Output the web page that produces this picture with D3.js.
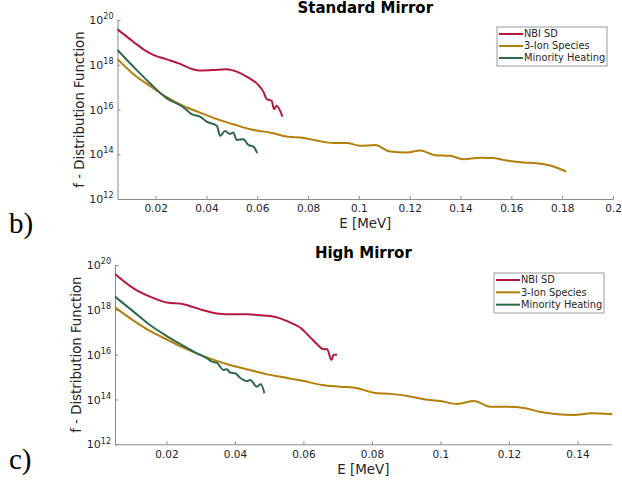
<!DOCTYPE html>
<html>
<head>
<meta charset="utf-8">
<script src="https://cdn.jsdelivr.net/npm/d3@7"></script>
<style>
  html, body { margin: 0; padding: 0; background: #fff; }
  svg { display: block; font-family: "DejaVu Sans", sans-serif; }
</style>
</head>
<body>
<svg id="chart" width="622" height="488"></svg>
<script>
// ---------- DATA (log10 of f vs E [MeV]) ----------
const seriesNames = ["NBI SD", "3-Ion Species", "Minority Heating"];
const seriesColors = ["#b5183c", "#b47e0b", "#2d6a4a"];

// Panel b) Standard Mirror
const stdNbiE = [0.005, 0.0112, 0.0152, 0.0191, 0.0244, 0.0296, 0.0336, 0.0375, 0.0426, 0.048, 0.0519, 0.0558, 0.0604, 0.0624, 0.0637, 0.0657, 0.0666, 0.0676, 0.0699];
const stdNbiLogF = [19.58, 19.03, 18.69, 18.44, 18.24, 18.04, 17.84, 17.74, 17.77, 17.80, 17.69, 17.47, 17.10, 16.80, 16.47, 16.38, 16.01, 16.17, 15.68];

const stdIonE = [0.005, 0.0112, 0.0178, 0.0244, 0.0309, 0.0375, 0.0441, 0.0506, 0.0572, 0.0663, 0.0716, 0.0782, 0.0834, 0.0900, 0.0952, 0.1005, 0.1064, 0.1123, 0.1189, 0.1241, 0.1300, 0.1359, 0.1411, 0.1477, 0.1530, 0.1582, 0.1648, 0.1700, 0.1753, 0.1816];
const stdIonLogF = [18.25, 17.59, 17.05, 16.55, 16.16, 15.86, 15.57, 15.34, 15.12, 14.94, 14.79, 14.73, 14.61, 14.50, 14.50, 14.38, 14.41, 14.12, 14.08, 14.17, 13.96, 13.93, 13.78, 13.84, 13.83, 13.72, 13.63, 13.60, 13.50, 13.23];

const stdMinE = [0.005, 0.0112, 0.0178, 0.0244, 0.0309, 0.0342, 0.0375, 0.0401, 0.0441, 0.0454, 0.0473, 0.0493, 0.0506, 0.0519, 0.0545, 0.0565, 0.0585, 0.0600];
const stdMinLogF = [18.66, 17.92, 17.17, 16.50, 16.10, 15.79, 15.68, 15.46, 15.27, 14.82, 15.04, 14.91, 14.97, 14.64, 14.67, 14.42, 14.34, 14.05];

// Panel c) High Mirror
const highNbiE = [0.005, 0.0104, 0.0152, 0.0201, 0.0250, 0.0299, 0.0347, 0.0396, 0.0435, 0.0474, 0.0503, 0.0532, 0.0562, 0.0591, 0.0620, 0.0640, 0.0659, 0.0669, 0.0682, 0.0688, 0.0698];
const highNbiLogF = [19.60, 18.96, 18.59, 18.33, 18.25, 18.02, 17.84, 17.80, 17.80, 17.76, 17.72, 17.62, 17.43, 17.20, 16.77, 16.46, 16.24, 16.25, 15.76, 15.99, 15.99];

const highIonE = [0.005, 0.0104, 0.0152, 0.0201, 0.0250, 0.0299, 0.0347, 0.0396, 0.0445, 0.0494, 0.0542, 0.0601, 0.0654, 0.0708, 0.0757, 0.0805, 0.0854, 0.0903, 0.0951, 0.1000, 0.1049, 0.1098, 0.1146, 0.1195, 0.1244, 0.1293, 0.1342, 0.1390, 0.1439, 0.1502];
const highIonLogF = [18.11, 17.52, 17.06, 16.68, 16.31, 15.99, 15.72, 15.49, 15.31, 15.12, 14.99, 14.82, 14.65, 14.57, 14.50, 14.30, 14.25, 14.16, 14.01, 13.93, 13.80, 13.93, 13.68, 13.68, 13.62, 13.44, 13.34, 13.31, 13.38, 13.34];

const highMinE = [0.005, 0.0104, 0.0152, 0.0201, 0.0250, 0.0289, 0.0318, 0.0333, 0.0347, 0.0367, 0.0377, 0.0386, 0.0401, 0.0415, 0.0435, 0.0445, 0.0464, 0.0476, 0.0486];
const highMinLogF = [18.59, 17.92, 17.32, 16.83, 16.39, 16.06, 15.84, 15.69, 15.64, 15.32, 15.35, 15.20, 15.17, 14.97, 14.82, 14.87, 14.57, 14.68, 14.28];

const stdXTicks = [0.02, 0.04, 0.06, 0.08, 0.1, 0.12, 0.14, 0.16, 0.18, 0.2];
const highXTicks = [0.02, 0.04, 0.06, 0.08, 0.1, 0.12, 0.14];
const yTickExps = [12, 14, 16, 18, 20];

const panels = [
  { title: "Standard Mirror", tag: "b)", xDomain: [0.005, 0.2], xTicks: stdXTicks,
    series: [[stdNbiE, stdNbiLogF], [stdIonE, stdIonLogF], [stdMinE, stdMinLogF]],
    left: 117.5, right: 613, top: 20, bottom: 199,
    titleY: 13, xLabelY: 228, tagY: 233, legend: { x: 497, y: 27, w: 110, h: 39 } },
  { title: "High Mirror", tag: "c)", xDomain: [0.005, 0.15], xTicks: highXTicks,
    series: [[highNbiE, highNbiLogF], [highIonE, highIonLogF], [highMinE, highMinLogF]],
    left: 115, right: 611.7, top: 265, bottom: 444.3,
    titleY: 258, xLabelY: 474, tagY: 469, legend: { x: 494, y: 273, w: 110, h: 40 } }
];

const svg = d3.select("#chart");
const axisColor = "#8a8a8a";
const textColor = "#262626";

panels.forEach(p => {
  const x = d3.scaleLinear().domain(p.xDomain).range([p.left, p.right]);
  const y = d3.scaleLog().domain([1e12, 1e20]).range([p.bottom, p.top]);
  const g = svg.append("g");

  // x axis
  const xAxis = g.append("g")
    .attr("transform", `translate(0,${p.bottom})`)
    .call(d3.axisBottom(x).tickValues(p.xTicks).tickSizeInner(-3).tickSizeOuter(0)
      .tickPadding(6).tickFormat(d => d3.format("~g")(d)));
  xAxis.select(".domain").attr("stroke", axisColor);
  xAxis.selectAll(".tick line").attr("stroke", axisColor);
  xAxis.selectAll(".tick text").attr("fill", textColor).attr("font-size", 10.5)
    .attr("font-family", "DejaVu Sans, sans-serif");

  // y axis
  const yAxis = g.append("g")
    .attr("transform", `translate(${p.left},0)`)
    .call(d3.axisLeft(y).tickValues(yTickExps.map(e => Math.pow(10, e)))
      .tickSizeInner(-3).tickSizeOuter(0).tickPadding(4).tickFormat(""));
  yAxis.select(".domain").attr("stroke", axisColor);
  yAxis.selectAll(".tick line").attr("stroke", axisColor);
  yAxis.selectAll(".tick text").each(function(d) {
    const t = d3.select(this).attr("fill", textColor).attr("font-size", 11)
      .attr("font-family", "DejaVu Sans, sans-serif").attr("dy", "0.32em");
    t.text(null);
    t.append("tspan").text("10");
    t.append("tspan").attr("font-size", 8).attr("dy", "-0.6em").text(String(Math.round(Math.log10(d))));
  });

  // series lines
  const line = d3.line().curve(d3.curveMonotoneX)
    .x(d => x(d[0])).y(d => y(Math.pow(10, d[1])));
  p.series.forEach((s, i) => {
    const pts = s[0].map((e, k) => [e, s[1][k]]);
    g.append("path").datum(pts)
      .attr("d", line).attr("fill", "none")
      .attr("stroke", seriesColors[i]).attr("stroke-width", 2)
      .attr("stroke-linejoin", "round");
  });

  // title
  g.append("text").attr("x", (p.left + p.right) / 2).attr("y", p.titleY)
    .attr("text-anchor", "middle").attr("font-weight", "bold").attr("font-size", 15)
    .attr("fill", "#000").text(p.title);

  // x label
  g.append("text").attr("x", (p.left + p.right) / 2).attr("y", p.xLabelY)
    .attr("text-anchor", "middle").attr("font-size", 13.4).attr("fill", textColor)
    .text("E [MeV]");

  // y label
  g.append("text")
    .attr("transform", `translate(${p.left - 38.5},${(p.top + p.bottom) / 2}) rotate(-90)`)
    .attr("text-anchor", "middle").attr("dy", "0.35em").attr("font-size", 13.3)
    .attr("fill", textColor).text("f - Distribution Function");

  // panel tag
  g.append("text").attr("x", 9).attr("y", p.tagY)
    .attr("font-family", "Liberation Serif, DejaVu Serif, serif").attr("font-size", 29)
    .attr("fill", "#000").text(p.tag);

  // legend
  const L = p.legend;
  const lg = g.append("g");
  lg.append("rect").attr("x", L.x).attr("y", L.y).attr("width", L.w).attr("height", L.h)
    .attr("fill", "#fff").attr("stroke", "#9a9a9a").attr("stroke-width", 1);
  const rowH = (L.h - 3) / 3;
  seriesNames.forEach((name, i) => {
    const cy = L.y + 7 + i * rowH;
    lg.append("line").attr("x1", L.x + 2).attr("x2", L.x + 26).attr("y1", cy).attr("y2", cy)
      .attr("stroke", seriesColors[i]).attr("stroke-width", 2);
    lg.append("text").attr("x", L.x + 27).attr("y", cy).attr("dy", "0.35em")
      .attr("font-size", 9.8).attr("fill", textColor).text(name);
  });
});
</script>
</body>
</html>
